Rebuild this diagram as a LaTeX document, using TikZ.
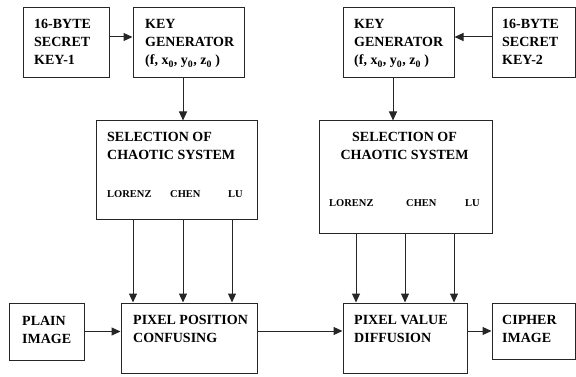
\documentclass[tikz,border=0pt]{standalone}
\usepackage{fontspec}
\setmainfont{Liberation Serif}
\usetikzlibrary{arrows.meta}
\tikzset{
  blk/.style={draw=black!85, line width=1pt, minimum width=#1},
  blk/.default=80pt,
  lbl/.style={anchor=base west, inner sep=0pt, align=left, font=\fontsize{14}{18}\selectfont\bfseries},
  sml/.style={anchor=base west, inner sep=0pt, font=\fontsize{10.5}{12}\selectfont\bfseries},
  arr/.style={draw=black!85, line width=1pt, -{Triangle[length=9pt,width=8pt]}},
  ln/.style={draw=black!85, line width=1pt}
}
\begin{document}
\begin{tikzpicture}[x=1pt,y=-1pt]
\useasboundingbox (0,0) rectangle (576,377);
% boxes
\node[blk=86pt, minimum height=70pt] (key1) at (66,43) {};
\node[blk=111pt, minimum height=70pt] (genA) at (188.5,43) {};
\node[blk=111pt, minimum height=70pt] (genB) at (398.5,43) {};
\node[blk=83pt, minimum height=70pt] (key2) at (533.5,43) {};
\node[blk=161pt, minimum height=98pt] (selA) at (176.5,170) {};
\node[blk=173pt, minimum height=112pt] (selB) at (405.5,177) {};
\node[blk=75pt, minimum height=57pt] (plain) at (46.5,331.5) {};
\node[blk=136pt, minimum height=70pt] (confuse) at (189,338) {};
\node[blk=124pt, minimum height=70pt] (diffuse) at (405,338) {};
\node[blk=83pt, minimum height=56pt] (cipher) at (533.5,331) {};
% texts (base = last line)
\node[lbl] (key1txt) at (34,65) {16-BYTE\\SECRET\\KEY-1};
\node[lbl] (genAtxt) at (145,65) {KEY\\GENERATOR\\(f, x\textsubscript{0}, y\textsubscript{0}, z\textsubscript{0} )};
\node[lbl] (genBtxt) at (354,65) {KEY\\GENERATOR\\(f, x\textsubscript{0}, y\textsubscript{0}, z\textsubscript{0} )};
\node[lbl] (key2txt) at (502,65) {16-BYTE\\SECRET\\KEY-2};
\node[lbl] (selAtxt) at (107,160) {SELECTION OF\\CHAOTIC SYSTEM};
\node[lbl, anchor=base, align=center] (selBtxt) at (404.5,160) {SELECTION OF\\CHAOTIC SYSTEM};
\node[sml] (lorA) at (107,197) {LORENZ};
\node[sml] (chenA) at (170,197) {CHEN};
\node[sml] (luA) at (228,197) {LU};
\node[sml] (lorB) at (329,207) {LORENZ};
\node[sml] (chenB) at (406,207) {CHEN};
\node[sml] (luB) at (465,207) {LU};
\node[lbl] (plaintxt) at (22,343) {PLAIN\\IMAGE};
\node[lbl] (confusetxt) at (133,342) {PIXEL POSITION\\CONFUSING};
\node[lbl] (diffusetxt) at (354,342) {PIXEL VALUE\\DIFFUSION};
\node[lbl] (ciphertxt) at (502,342) {CIPHER\\IMAGE};
% connectors
\draw[arr] ([yshift=6pt]key1.east) -- ([yshift=6pt]genA.west);
\draw[arr] ([yshift=6pt]key2.west) -- ([yshift=6pt]genB.east);
\draw[arr] ([xshift=-5.5pt]genA.south) -- ([xshift=-5.5pt]genA.south |- selA.north);
\draw[arr] ([xshift=-5.5pt]genB.south) -- ([xshift=-5.5pt]genB.south |- selB.north);
\foreach \dx in {-43.5,6.5,55.5}
  \draw[arr] ([xshift=\dx pt]selA.south) -- ([xshift=\dx pt]selA.south |- confuse.north);
\foreach \dx in {-49.5,-0.5,48.5}
  \draw[arr] ([xshift=\dx pt]selB.south) -- ([xshift=\dx pt]selB.south |- diffuse.north);
\draw[arr] (plain.east) -- (plain.east -| confuse.west);
\draw[arr] ([yshift=7pt]confuse.east) -- ([yshift=7pt]diffuse.west);
\draw[arr] ([yshift=7pt]diffuse.east) -- ([yshift=7pt]diffuse.east -| cipher.west);
\end{tikzpicture}
\end{document}
